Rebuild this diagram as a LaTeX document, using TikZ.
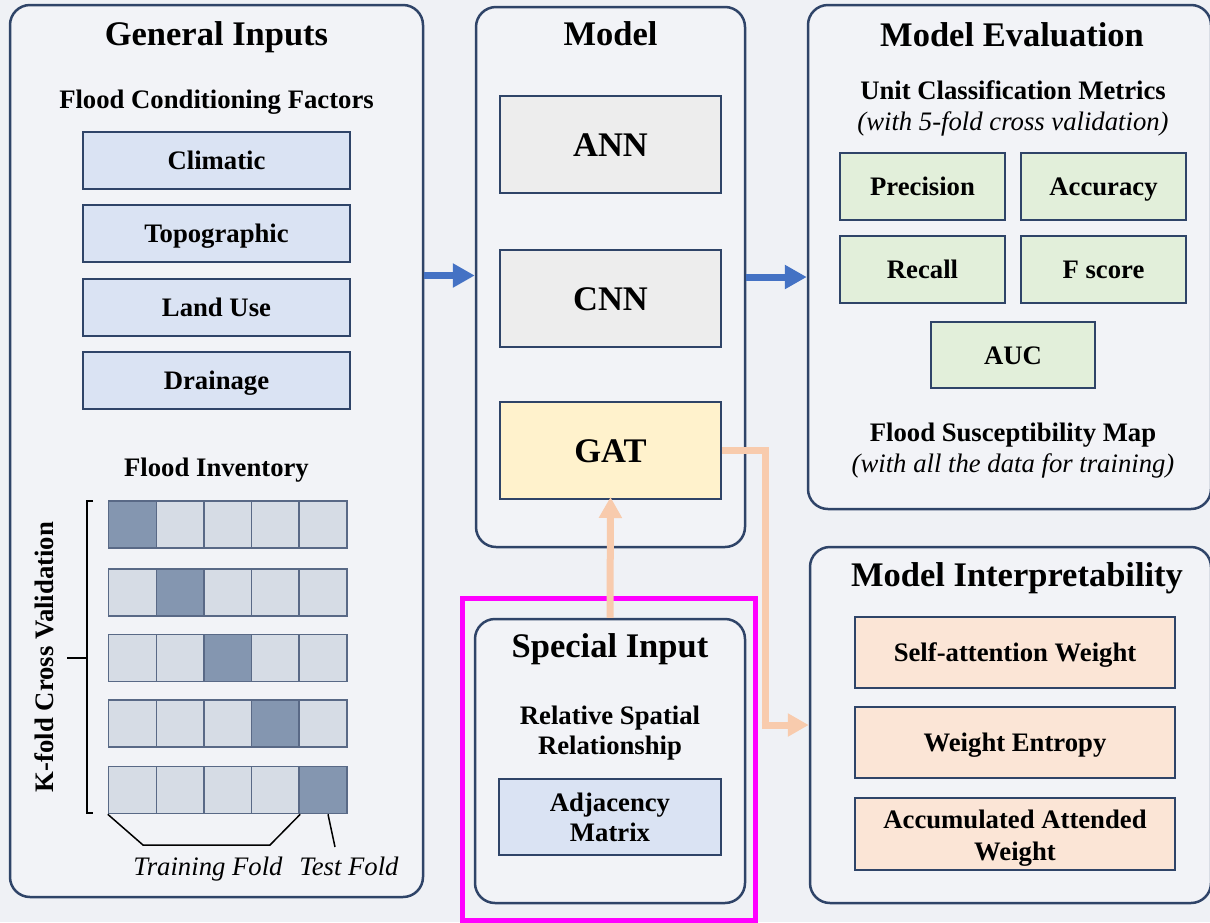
\documentclass[tikz,border=0pt]{standalone}
\usepackage{fontspec}
\setmainfont{Liberation Serif}
\usetikzlibrary{arrows.meta}
\definecolor{bgc}{HTML}{EFF1F5}
\definecolor{panelc}{HTML}{F2F3F7}
\definecolor{navy}{HTML}{2F4468}
\definecolor{bluebox}{HTML}{DAE3F3}
\definecolor{graybox}{HTML}{EDEDED}
\definecolor{yellowbox}{HTML}{FFF2CC}
\definecolor{greenbox}{HTML}{E2EFDA}
\definecolor{peachbox}{HTML}{FBE5D6}
\definecolor{celllight}{HTML}{D6DCE5}
\definecolor{celldark}{HTML}{8496B0}
\definecolor{arrowblue}{HTML}{4472C4}
\definecolor{arrowpeach}{HTML}{F8CBAD}
\definecolor{magentac}{HTML}{FF00FF}
\tikzset{
  panel/.style={draw=navy, line width=2.5pt, rounded corners=20pt, fill=panelc, inner sep=0pt},
  bigtxt/.style={font=\fontsize{34.5}{40}\selectfont\bfseries, text height=23.5pt, text depth=0pt},
  midtxt/.style={font=\fontsize{26.7}{30}\selectfont\bfseries, align=center},
  ittxt/.style={font=\fontsize{26.7}{30}\selectfont\itshape, text height=18.2pt, text depth=0pt},
  onel/.style={text height=18.2pt, text depth=0pt},
  factorbox/.style={draw=navy, line width=2pt, fill=bluebox, minimum width=267pt, minimum height=57pt, midtxt, inner sep=0pt, onel},
  modelbox/.style={draw=navy, line width=2pt, minimum width=221pt, minimum height=97pt, bigtxt, inner sep=0pt},
  metricbox/.style={draw=navy, line width=2pt, fill=greenbox, minimum width=165pt, minimum height=67pt, midtxt, inner sep=0pt, onel},
  interpbox/.style={draw=navy, line width=2pt, fill=peachbox, minimum width=320pt, minimum height=71pt, midtxt, inner sep=0pt},
  cellbox/.style={draw=navy!80, line width=1.5pt, minimum width=48pt, minimum height=47pt, inner sep=0pt, fill=celllight},
  darkcell/.style={fill=celldark},
  bluearrow/.style={draw=arrowblue, line width=7pt, -{Triangle[length=22pt,width=23pt]}},
  peachline/.style={draw=arrowpeach, line width=7pt},
  peacharrow/.style={peachline, -{Triangle[length=21pt,width=22pt]}},
}
\begin{document}
\begin{tikzpicture}[x=1pt,y=-1pt]
\useasboundingbox (0,0) rectangle (1210,922);
\fill[bgc] (0,0) rectangle (1210,922);

% ---------- General Inputs ----------
\node[panel, minimum width=413pt, minimum height=892pt] (gi) at (216.5,451) {};
\node[bigtxt] (gititle) at (216.5,34) {General Inputs};
\node[midtxt, onel] (fcf) at (216.5,99) {Flood Conditioning Factors};
\node[factorbox] (clim) at (216.5,160.5) {Climatic};
\node[factorbox] (topo) at (216.5,233.5) {Topographic};
\node[factorbox] (land) at (216.5,307.5) {Land Use};
\node[factorbox] (drain) at (216.5,380.5) {Drainage};
\node[midtxt, onel] (finv) at (216.5,467) {Flood Inventory};

% fold grid
\foreach \r/\y/\d in {1/524.5/1, 2/592.5/2, 3/658/3, 4/723.5/4, 5/790/5}{
  \foreach \c/\x in {1/132.5, 2/180.5, 3/228, 4/275.5, 5/323}{
    \ifnum\c=\d
      \node[cellbox, darkcell] (c\r\c) at (\x,\y) {};
    \else
      \node[cellbox] (c\r\c) at (\x,\y) {};
    \fi
  }
}
% bracket
\coordinate (brt) at (93,501);
\coordinate (brb) at (93,813);
\coordinate (brm) at (67,658);
\draw[black, line width=2.2pt] (brt) -- (87,501) -- (87,813) -- (brb);
\draw[black, line width=2.2pt] (87,658) -- (brm);
\node[midtxt, rotate=90, onel] (kfold) at (44,657) {K-fold Cross Validation};
% training/test fold
\coordinate (tf1) at (143,845);
\coordinate (tf2) at (270,845);
\coordinate (tsb) at (335,847);
\draw[black, line width=1.5pt] (c51.south west) -- (tf1) -- (tf2) -- (c54.south east);
\draw[black, line width=1.5pt] ([xshift=5pt]c55.south) -- (tsb);
\node[ittxt] (trainl) at (208,866) {Training Fold};
\node[ittxt] (testl) at (349,866) {Test Fold};

% ---------- Model ----------
\node[panel, minimum width=269pt, minimum height=540pt] (model) at (610.5,277) {};
\node[bigtxt] (modeltitle) at (610.5,34) {Model};
\node[modelbox, fill=graybox] (ann) at (610.5,144.5) {ANN};
\node[modelbox, fill=graybox] (cnn) at (610.5,298.5) {CNN};
\node[modelbox, fill=yellowbox] (gat) at (610.5,450.5) {GAT};

% ---------- Special Input ----------
\node[draw=magentac, line width=5pt, minimum width=293pt, minimum height=322pt, inner sep=0pt] (hl) at (608.5,759) {};
\node[panel, minimum width=270pt, minimum height=284pt] (spin) at (610,761) {};
\node[bigtxt] (spintitle) at (610,646) {Special Input};
\node[midtxt] (rsr) at (610,733) {Relative Spatial\\Relationship};
\node[draw=navy, line width=2pt, fill=bluebox, minimum width=222pt, minimum height=76pt, inner sep=0pt, midtxt, font=\fontsize{26.7}{30}\selectfont\bfseries] (adj) at (610,817) {Adjacency\\Matrix};

% ---------- Model Evaluation ----------
\node[panel, minimum width=403pt, minimum height=504pt] (eval) at (1009.5,257) {};
\node[bigtxt] (evaltitle) at (1012,34.5) {Model Evaluation};
\node[midtxt, onel] (ucm) at (1013,90.5) {Unit Classification Metrics};
\node[ittxt] (ucmit) at (1013,121) {(with 5-fold cross validation)};
\node[metricbox] (prec) at (922.5,186.5) {Precision};
\node[metricbox] (acc) at (1103.5,186.5) {Accuracy};
\node[metricbox] (rec) at (922.5,269.5) {Recall};
\node[metricbox] (fsc) at (1103.5,269.5) {F score};
\node[metricbox, minimum width=164pt, minimum height=66pt] (auc) at (1013,355) {AUC};
\node[midtxt, onel] (fsm) at (1013,432.5) {Flood Susceptibility Map};
\node[ittxt] (fsmit) at (1013,463) {(with all the data for training)};

% ---------- Model Interpretability ----------
\node[panel, minimum width=401pt, minimum height=356pt] (interp) at (1010.5,725) {};
\node[bigtxt] (interptitle) at (1017,575) {Model Interpretability};
\node[interpbox, onel] (saw) at (1015,652) {Self-attention Weight};
\node[interpbox, onel] (we) at (1015,742.5) {Weight Entropy};
\node[interpbox, minimum height=72pt, font=\fontsize{26.7}{32}\selectfont\bfseries] (aaw) at (1015,834) {};
\node[midtxt, font=\fontsize{26.7}{32}\selectfont\bfseries] (aawtxt) at (1015,838) {Accumulated Attended\\Weight};

% ---------- Connectors ----------
\draw[bluearrow] (gi.east |- 0,275.5) -- (model.west |- 0,275.5);
\draw[bluearrow] (model.east |- 0,277) -- (eval.west |- 0,277);
\draw[peacharrow] (spin.north) -- ([yshift=3pt]gat.south);
\coordinate (pk) at (765,725);
\draw[peachline, line join=miter] (gat.east) -| (pk);
\draw[peacharrow] ([xshift=-3.5pt]pk) -- (interp.west |- pk);
\end{tikzpicture}
\end{document}
